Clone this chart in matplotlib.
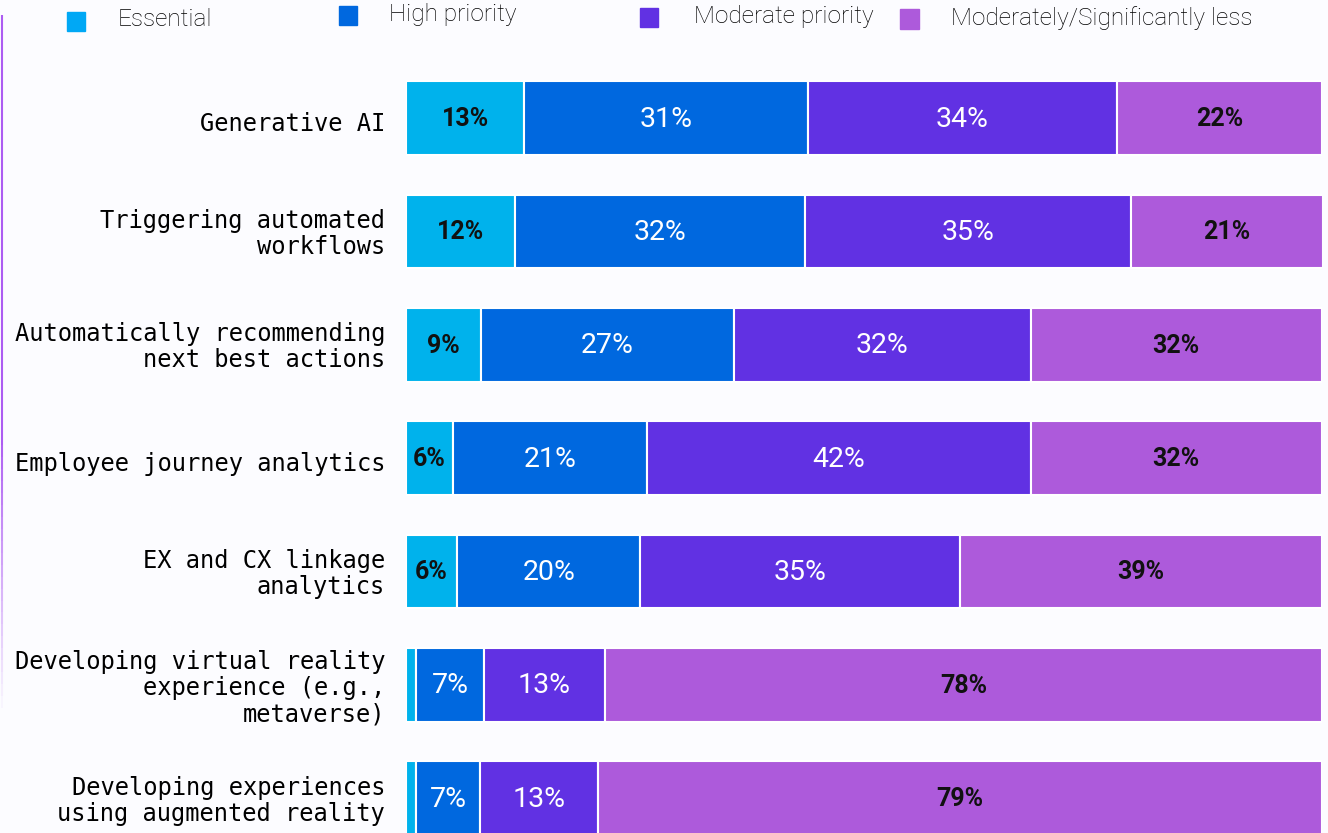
import numpy as np
import matplotlib
matplotlib.use("Agg")
import matplotlib.pyplot as plt
import matplotlib.transforms as mtrans
from matplotlib.collections import LineCollection

categories = [
    "Generative AI",
    "Triggering automated\nworkflows",
    "Automatically recommending\nnext best actions",
    "Employee journey analytics",
    "EX and CX linkage\nanalytics",
    "Developing virtual reality\nexperience (e.g.,\nmetaverse)",
    "Developing experiences\nusing augmented reality",
]
series_names = ["Essential", "High priority", "Moderate priority", "Moderately/Significantly less"]
essential = [12.9, 11.9, 8.2, 5.1, 5.6, 1.1, 1.1]
high = [31.0, 31.7, 27.6, 21.2, 20.0, 7.4, 7.0]
moderate = [33.7, 35.5, 32.4, 41.9, 34.9, 13.2, 12.9]
less = [22.4, 21.0, 31.8, 31.8, 39.5, 78.3, 79.0]
essential_labels = ["13%", "12%", "9%", "6%", "6%", "", ""]
high_labels = ["31%", "32%", "27%", "21%", "20%", "7%", "7%"]
moderate_labels = ["34%", "35%", "32%", "42%", "35%", "13%", "13%"]
less_labels = ["22%", "21%", "32%", "32%", "39%", "78%", "79%"]

colors = ["#00B2EC", "#0068DF", "#6131E3", "#AD5ADB"]
legend_colors = ["#00A8F5", "#0068DF", "#6131E3", "#AD5ADB"]
bg = "#FCFCFF"

W, H = 1328, 833
fig = plt.figure(figsize=(W / 100, H / 100), dpi=100, facecolor=bg)

x0, x1 = 406, 1322
c0, c6 = 118, 798
step = (c6 - c0) / 6
top = c0 - step / 2
bot = c6 + step / 2
ax = fig.add_axes([x0 / W, 1 - bot / H, (x1 - x0) / W, (bot - top) / H])
ax.set_facecolor(bg)
ax.patch.set_alpha(0)

y = np.arange(len(categories))
series = [essential, high, moderate, less]
labels = [essential_labels, high_labels, moderate_labels, less_labels]
left = np.zeros(len(categories))
for i, (vals, labs) in enumerate(zip(series, labels)):
    vals = np.array(vals)
    ax.barh(y, vals, left=left, height=0.65, color=colors[i], edgecolor="white", linewidth=1.5)
    for j, (v, lab) in enumerate(zip(vals, labs)):
        if not lab:
            continue
        cx = left[j] + v / 2
        if i in (1, 2):
            ax.text(cx, j + 0.01, lab, ha="center", va="center", color="white",
                    fontsize=20.5, family="Roboto")
        else:
            ax.text(cx, j + 0.01, lab, ha="center", va="center", color="#111111",
                    fontsize=18, family="Roboto", fontweight="bold")
    left = left + vals

ax.set_xlim(0, 100)
ax.set_ylim(len(categories) - 0.5, -0.5)
ax.set_yticks(y)
ax.set_yticklabels(categories, family="DejaVu Sans Mono", fontsize=17.1,
                   linespacing=1.12, ha="right")
ax.tick_params(axis="y", length=0, pad=15)
ax.set_xticks([])
for s in ax.spines.values():
    s.set_visible(False)
# vertical fine-tuning of label blocks (pixels)
for t in ax.get_yticklabels():
    n = t.get_text().count("\n") + 1
    dy_px = {1: -3, 2: 1, 3: 0}[n]
    off = mtrans.ScaledTranslation(0, dy_px / 100, fig.dpi_scale_trans)
    t.set_transform(t.get_transform() + off)

leg_sq = [(67, 12, 31), (339, 6, 25), (640, 8, 27), (900, 9, 29)]
leg_tx = [(118, 20), (389, 15), (694, 17), (951, 18)]
for k in range(4):
    sx, sy0, sy1 = leg_sq[k]
    size = sy1 - sy0
    fig.patches.append(plt.Rectangle((sx / W, 1 - sy1 / H), size * 0.95 / W, size / H,
                                     transform=fig.transFigure, color=legend_colors[k]))
    tx, ty = leg_tx[k]
    fig.text(tx / W, 1 - ty / H, series_names[k], ha="left", va="center",
             fontsize=17.6, family="Roboto", fontweight="light", color="#000000")

ys = np.linspace(15, 720, 60)
pts = np.array([[1.5 / W, 1 - yy / H] for yy in ys])
segs = np.stack([pts[:-1], pts[1:]], axis=1)
alphas = np.concatenate([np.ones(35), np.linspace(1, 0, 24)])
lc_colors = [(0.68, 0.36, 0.95, a) for a in alphas]
lc = LineCollection(segs, colors=lc_colors, linewidths=1.5, transform=fig.transFigure)
fig.add_artist(lc)

fig.savefig("out.png", dpi=100, facecolor=bg)
